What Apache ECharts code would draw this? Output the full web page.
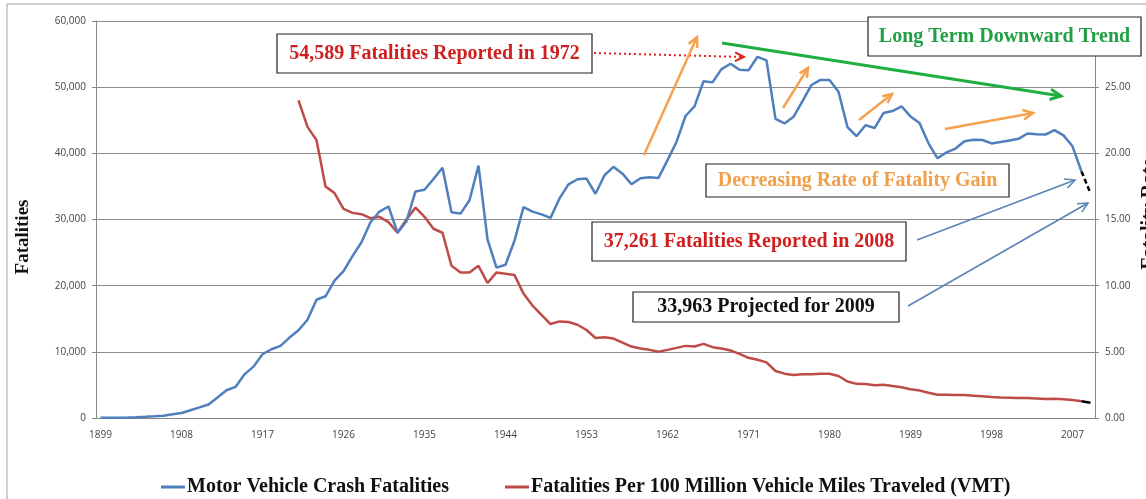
<!DOCTYPE html>
<html>
<head>
<meta charset="utf-8">
<script src="https://cdn.jsdelivr.net/npm/echarts@6/dist/echarts.min.js"></script>
<style>
  html, body { margin: 0; padding: 0; background: #fff; }
  #main { width: 1146px; height: 499px; }
</style>
</head>
<body>
<div id="main"></div>
<script>
// years on the x axis, 1899 .. 2009
var years = [];
for (var y = 1899; y <= 2009; y++) years.push(String(y));

// Motor vehicle crash fatalities, 1899 - 2008
var fatalities = [
  26, 36, 54, 79, 117, 172, 252, 338, 581, 751,                          // 1899-1908
  1174, 1599, 2043, 3100, 4200, 4700, 6600, 7766, 9630, 10390,            // 1909-1918
  10896, 12155, 13253, 14859, 17870, 18400, 20771, 22194, 24470, 26557,   // 1919-1928
  29592, 31204, 31963, 28016, 29746, 34240, 34494, 36126, 37819, 31083,   // 1929-1938
  30895, 32914, 38142, 27007, 22727, 23165, 26785, 31874, 31193, 30775,   // 1939-1948
  30246, 33186, 35309, 36088, 36190, 33890, 36688, 37965, 36932, 35331,   // 1949-1958
  36223, 36399, 36285, 38980, 41723, 45645, 47089, 50894, 50724, 52725,   // 1959-1968
  53543, 52627, 52542, 54589, 54052, 45196, 44525, 45523, 47878, 50331,   // 1969-1978
  51093, 51091, 49301, 43945, 42589, 44257, 43825, 46087, 46390, 47087,   // 1979-1988
  45582, 44599, 41508, 39250, 40150, 40716, 41817, 42065, 42013, 41501,   // 1989-1998
  41717, 41945, 42196, 43005, 42884, 42836, 43510, 42708, 41059, 37261    // 1999-2008
];
var projected2009 = 33963;

// Fatalities per 100 million VMT, 1921 - 2008
var rateStart = 1921;
var rates = [
  24.0, 22.0, 21.0, 17.5, 17.0, 15.8, 15.5, 15.4, 15.1, 15.2,   // 1921-1930
  14.8, 14.0, 15.0, 15.9, 15.2, 14.3, 14.0, 11.5, 11.0, 11.0,   // 1931-1940
  11.5, 10.2, 11.0, 10.9, 10.8, 9.4, 8.5, 7.8, 7.1, 7.3,        // 1941-1950
  7.25, 7.05, 6.65, 6.05, 6.1, 6.0, 5.7, 5.4, 5.25, 5.15,       // 1951-1960
  5.0, 5.15, 5.3, 5.45, 5.4, 5.6, 5.35, 5.25, 5.1, 4.85,        // 1961-1970
  4.55, 4.4, 4.2, 3.55, 3.35, 3.25, 3.3, 3.3, 3.35, 3.35,       // 1971-1980
  3.17, 2.76, 2.58, 2.57, 2.47, 2.51, 2.41, 2.32, 2.17, 2.08,   // 1981-1990
  1.91, 1.75, 1.75, 1.73, 1.73, 1.69, 1.64, 1.58, 1.55, 1.53,   // 1991-2000
  1.51, 1.51, 1.48, 1.44, 1.46, 1.42, 1.36, 1.26                // 2001-2008
];
var rate2009 = 1.16;

var leftTicks = [0, 60000, 10000];   // min, max, interval
var rightTicks = [0, 30, 5];

// build series arrays aligned to the year categories
var n = years.length;
var blueData = fatalities.concat([null]);
var blueProj = [];
var redData = [];
var redProj = [];
for (var i = 0; i < n; i++) {
  blueProj.push(null);
  redProj.push(null);
  var k = 1899 + i - rateStart;
  redData.push(k >= 0 && k < rates.length ? rates[k] : null);
}
blueProj[n - 2] = fatalities[fatalities.length - 1];
blueProj[n - 1] = projected2009;
redProj[n - 2] = rates[rates.length - 1];
redProj[n - 1] = rate2009;

var serif = 'Liberation Serif';
var sans = 'Open Sans';

function arrow(x1, y1, x2, y2, color, width, dash, head) {
  var a = Math.atan2(y2 - y1, x2 - x1);
  var L = head || 11, s = 0.45;
  var style = { stroke: color, lineWidth: width, fill: null };
  if (dash) style.lineDash = dash;
  return [
    { type: 'line', z: 50, shape: { x1: x1, y1: y1, x2: x2, y2: y2 }, style: style },
    { type: 'polyline', z: 50, shape: { points: [
        [x2 - L * Math.cos(a - s), y2 - L * Math.sin(a - s)],
        [x2, y2],
        [x2 - L * Math.cos(a + s), y2 - L * Math.sin(a + s)]
      ] }, style: { stroke: color, lineWidth: width, fill: null } }
  ];
}

function box(x, y, w, h, text, color, size) {
  return [
    { type: 'rect', z: 60, shape: { x: x, y: y, width: w, height: h },
      style: { fill: '#fff', stroke: '#222', lineWidth: 1.2 } },
    { type: 'text', z: 61, x: x + w / 2, y: y + h / 2,
      style: { text: text, fill: color, font: 'bold ' + size + 'px "' + serif + '"',
               align: 'center', verticalAlign: 'middle' } }
  ];
}

var orange = '#f5a14f';
var graphics = [].concat(
  [{ type: 'rect', z: 1, shape: { x: 7, y: 4, width: 1300, height: 700 },
     style: { fill: null, stroke: '#a0a0a0', lineWidth: 1 } }],
  box(277, 34, 315, 39, '54,589 Fatalities Reported in 1972', '#d01f1f', 20),
  box(868, 17, 273, 39, 'Long Term Downward Trend', '#21a043', 20),
  box(706, 164, 303, 33, 'Decreasing Rate of Fatality Gain', '#f0a04c', 20),
  box(592, 222, 314, 39, '37,261 Fatalities Reported in 2008', '#d01f1f', 20),
  box(633, 292, 266, 30, '33,963 Projected for 2009', '#111', 20),
  arrow(594, 53, 744, 57, '#e02020', 2, [2, 3], 10),
  arrow(722, 43, 1061, 96, '#1fae3f', 3, null, 12),
  arrow(644, 155, 697, 37, orange, 2.5, null, 11),
  arrow(783, 108, 808, 68, orange, 2.5, null, 10),
  arrow(859, 120, 892, 94, orange, 2.5, null, 10),
  arrow(945, 129, 1033, 113, orange, 2.5, null, 11),
  arrow(917, 240, 1075, 180, '#5a82b4', 1.5, null, 11),
  arrow(908, 306, 1088, 203, '#5a82b4', 1.5, null, 11),
  [
    { type: 'text', z: 40, x: 23, y: 237, rotation: Math.PI / 2,
      style: { text: 'Fatalities', fill: '#111', font: 'bold 19px "' + serif + '"',
               align: 'center', verticalAlign: 'middle' } },
    { type: 'text', z: 40, x: 1150, y: 214, rotation: Math.PI / 2,
      style: { text: 'Fatality Rate', fill: '#111', font: 'bold 20px "' + serif + '"',
               align: 'center', verticalAlign: 'middle' } }
  ]
);

var chart = echarts.init(document.getElementById('main'));
var option = {
  animation: false,
  backgroundColor: '#fff',
  grid: { left: 96, right: 51, top: 21, bottom: 81 },
  legend: {
    data: ['Motor Vehicle Crash Fatalities', 'Fatalities Per 100 Million Vehicle Miles Traveled (VMT)'],
    left: 156, top: 472,
    icon: 'rect', itemWidth: 24, itemHeight: 3, itemGap: 56,
    textStyle: { fontFamily: serif, fontWeight: 'bold', fontSize: 20, color: '#111', padding: [0, 0, 0, -3] }
  },
  xAxis: {
    type: 'category',
    data: years,
    boundaryGap: true,
    axisLine: { lineStyle: { color: '#888' } },
    axisTick: { interval: 0, length: 4, lineStyle: { color: '#888' } },
    axisLabel: { interval: 8, fontFamily: sans, fontSize: 10, color: '#444', margin: 12 },
    splitLine: { show: false }
  },
  yAxis: [
    {
      type: 'value', min: leftTicks[0], max: leftTicks[1], interval: leftTicks[2],
      axisLine: { show: true, lineStyle: { color: '#888' } },
      axisTick: { show: true, length: 4, lineStyle: { color: '#888' } },
      axisLabel: { fontFamily: sans, fontSize: 10, color: '#444', margin: 10,
        formatter: function (v) { return v.toLocaleString('en-US'); } },
      splitLine: { lineStyle: { color: '#8c8c8c', width: 1 } }
    },
    {
      type: 'value', min: rightTicks[0], max: rightTicks[1], interval: rightTicks[2],
      position: 'right',
      axisLine: { show: true, lineStyle: { color: '#888' } },
      axisTick: { show: true, length: 4, lineStyle: { color: '#888' } },
      axisLabel: { fontFamily: sans, fontSize: 10, color: '#444', margin: 10, showMaxLabel: false,
        formatter: function (v) { return v.toFixed(2); } },
      splitLine: { show: false }
    }
  ],
  series: [
    {
      name: 'Motor Vehicle Crash Fatalities', type: 'line', data: blueData,
      showSymbol: false, color: '#4f7fbc',
      lineStyle: { color: '#4f7fbc', width: 2.5 }, z: 5
    },
    {
      name: 'projection', type: 'line', data: blueProj,
      showSymbol: false, color: '#000',
      lineStyle: { color: '#000', width: 2.5, type: [5, 3] }, z: 6
    },
    {
      name: 'Fatalities Per 100 Million Vehicle Miles Traveled (VMT)', type: 'line',
      yAxisIndex: 1, data: redData,
      showSymbol: false, color: '#be4b48',
      lineStyle: { color: '#be4b48', width: 2.5 }, z: 4
    },
    {
      name: 'rate projection', type: 'line', yAxisIndex: 1, data: redProj,
      showSymbol: false, color: '#000',
      lineStyle: { color: '#000', width: 2.5 }, z: 6
    }
  ],
  graphic: graphics
};
chart.setOption(option);
</script>
</body>
</html>
